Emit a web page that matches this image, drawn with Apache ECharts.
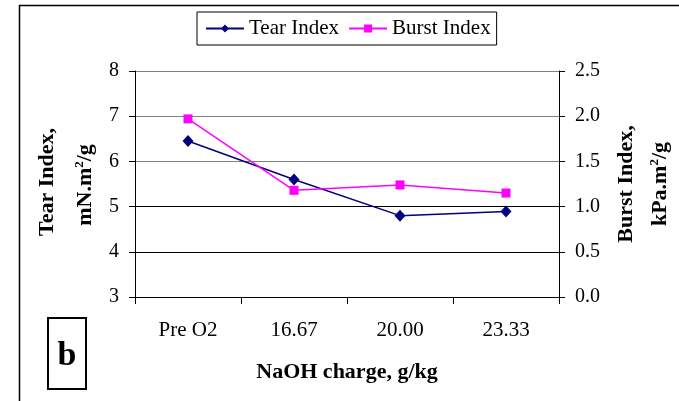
<!DOCTYPE html>
<html>
<head>
<meta charset="utf-8">
<script src="https://cdn.jsdelivr.net/npm/echarts@6/dist/echarts.min.js"></script>
<style>
  html, body { margin: 0; padding: 0; background: #fff; }
  #chart { width: 679px; height: 401px; }
</style>
</head>
<body>
<div id="chart"></div>
<script>
// NaOH charge categories and measured paper properties
const categories = ['Pre O2', '16.67', '20.00', '23.33'];
const tearIndex = [6.45, 5.6, 4.8, 4.89];
const burstIndex = [1.97, 1.18, 1.24, 1.15];
const tearTicks = { min: 3, max: 8, step: 1 };
const burstTicks = { min: 0, max: 2.5, step: 0.5 };

const FONT = '"Liberation Serif", "DejaVu Serif", serif';
const chart = echarts.init(document.getElementById('chart'), null, { renderer: 'canvas' });

function vTitle(x, y, rich, text) {
  return { type: 'text', x: x, y: y, rotation: Math.PI / 2,
    style: { rich: rich, text: text, fill: '#000', align: 'center', verticalAlign: 'middle' } };
}
const titleRich = {
  n: { font: 'bold 22px ' + FONT, fill: '#000' },
  s: { font: 'bold 13px ' + FONT, fill: '#000', padding: [0, 0, 10, 0] }
};

chart.setOption({
  animation: false,
  backgroundColor: '#fff',
  textStyle: { fontFamily: FONT, color: '#000' },
  graphic: [
    // outer frame of the figure
    { type: 'rect', shape: { x: 19.5, y: 5.5, width: 700, height: 420 },
      style: { fill: 'none', stroke: '#000', lineWidth: 1.5 }, silent: true },
    // panel letter
    { type: 'rect', shape: { x: 48, y: 318, width: 38, height: 71 },
      style: { fill: '#fff', stroke: '#000', lineWidth: 2 }, silent: true },
    { type: 'text', x: 67, y: 356,
      style: { text: 'b', font: 'bold 34px ' + FONT, fill: '#000', align: 'center', verticalAlign: 'middle' } },
    // left axis title
    vTitle(47, 182, titleRich, '{n|Tear Index,}'),
    vTitle(85, 185, titleRich, '{n|mN.m}{s|2}{n|/g}'),
    // right axis title
    vTitle(626, 184, titleRich, '{n|Burst Index,}'),
    vTitle(660, 184, titleRich, '{n|kPa.m}{s|2}{n|/g}')
  ],
  legend: {
    top: 12,
    left: 197,
    itemWidth: 38,
    itemHeight: 10,
    itemGap: 9,
    padding: [6, 6, 6, 8],
    borderColor: '#000',
    borderWidth: 1,
    textStyle: { fontFamily: FONT, fontSize: 21, color: '#000' },
    data: ['Tear Index', 'Burst Index']
  },
  grid: { left: 135, right: 120, top: 71, bottom: 104 },
  xAxis: {
    type: 'category',
    data: categories,
    boundaryGap: true,
    name: 'NaOH charge, g/kg',
    nameLocation: 'middle',
    nameGap: 64,
    nameTextStyle: { fontFamily: FONT, fontSize: 22, fontWeight: 'bold', color: '#000' },
    axisLine: { lineStyle: { color: '#000', width: 1 } },
    axisTick: { show: true, length: 7, inside: false, alignWithLabel: false, lineStyle: { color: '#000' } },
    axisLabel: { fontFamily: FONT, fontSize: 21, color: '#000', margin: 23 }
  },
  yAxis: [
    {
      type: 'value',
      min: tearTicks.min, max: tearTicks.max, interval: tearTicks.step,
      position: 'left',
      axisLine: { show: true, lineStyle: { color: '#000' } },
      axisTick: { show: true, length: 6, lineStyle: { color: '#000' } },
      axisLabel: { fontFamily: FONT, fontSize: 20, color: '#000', margin: 16 },
      splitLine: { show: true, lineStyle: { color: ['#000', '#000', '#000', '#808080', '#808080', '#808080'], width: 1 } }
    },
    {
      type: 'value',
      min: burstTicks.min, max: burstTicks.max, interval: burstTicks.step,
      position: 'right',
      axisLine: { show: true, lineStyle: { color: '#000' } },
      axisTick: { show: true, length: 6, lineStyle: { color: '#000' } },
      axisLabel: { fontFamily: FONT, fontSize: 20, color: '#000', margin: 16,
                   formatter: v => v.toFixed(1) },
      splitLine: { show: false }
    }
  ],
  series: [
    {
      name: 'Tear Index',
      type: 'line',
      yAxisIndex: 0,
      data: tearIndex,
      symbol: 'diamond',
      symbolSize: [11, 12],
      lineStyle: { color: '#000080', width: 1.5 },
      itemStyle: { color: '#000080' }
    },
    {
      name: 'Burst Index',
      type: 'line',
      yAxisIndex: 1,
      data: burstIndex,
      symbol: 'rect',
      symbolSize: 9,
      lineStyle: { color: '#FF00FF', width: 1.5 },
      itemStyle: { color: '#FF00FF' }
    }
  ]
});
</script>
</body>
</html>
